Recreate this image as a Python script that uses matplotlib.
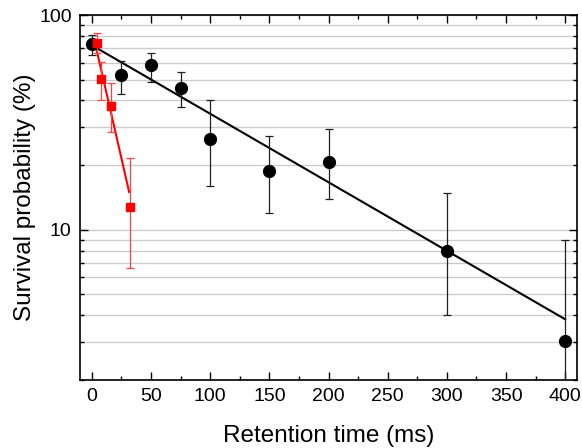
import matplotlib
matplotlib.use("Agg")
import matplotlib.pyplot as plt
import numpy as np
from matplotlib.ticker import LogLocator, MultipleLocator, NullFormatter, FixedFormatter, FixedLocator

plt.rcParams["font.family"] = ["Liberation Sans", "DejaVu Sans"]

# black series: long retention
t_black = [0, 25, 50, 75, 100, 150, 200, 300, 400]
p_black = [73.5, 52.4, 58.3, 45.8, 26.4, 18.7, 20.6, 7.96, 3.02]
p_black_hi = [80.8, 60.8, 66.9, 54.3, 40.0, 27.2, 29.4, 14.8, 8.93]
p_black_lo = [65.3, 43.0, 48.8, 37.1, 16.0, 12.0, 13.9, 4.0, 1.0]

# red series: short retention
t_red = [4, 8, 16, 32]
p_red = [74.0, 50.4, 37.8, 12.8]
p_red_hi = [82.2, 60.5, 48.0, 21.5]
p_red_lo = [66.6, 40.0, 28.5, 6.67]

# exponential fits (straight lines on log axis), endpoints
fit_black_t = [2.5, 400]
fit_black_p = [71.0, 3.83]
fit_red_t = [2, 31.5]
fit_red_p = [77.0, 15.0]

fig = plt.figure(figsize=(5.82, 4.48), dpi=100)
ax = fig.add_axes([0.1375, 0.152, 0.854, 0.8145])

ax.set_yscale("log")
ax.set_xlim(-10, 410)
ax.set_ylim(2, 100)

# grid at all y ticks
ax.yaxis.set_major_locator(FixedLocator([10, 100]))
ax.yaxis.set_minor_locator(LogLocator(base=10, subs=np.arange(2, 10)))
ax.yaxis.set_major_formatter(FixedFormatter(["10", "100"]))
ax.yaxis.set_minor_formatter(NullFormatter())
ax.grid(True, which="both", axis="y", color="#cccccc", linewidth=1.0)
ax.set_axisbelow(True)

ax.xaxis.set_major_locator(MultipleLocator(50))
ax.xaxis.set_minor_locator(MultipleLocator(25))

ax.plot(fit_black_t, fit_black_p, color="black", lw=1.5, zorder=3)
ax.plot(fit_red_t, fit_red_p, color="#ff0000", lw=1.5, zorder=3)

yerr_b = [np.array(p_black) - np.array(p_black_lo), np.array(p_black_hi) - np.array(p_black)]
ax.errorbar(t_black, p_black, yerr=yerr_b, fmt="o", color="black", ms=8.5,
            ecolor="#202020", elinewidth=0.9, capsize=3, capthick=0.9, zorder=4)
yerr_r = [np.array(p_red) - np.array(p_red_lo), np.array(p_red_hi) - np.array(p_red)]
ax.errorbar(t_red, p_red, yerr=yerr_r, fmt="s", color="#ff0000", ms=6,
            ecolor="#ff4040", elinewidth=0.9, capsize=3, capthick=0.9, zorder=5)

ax.tick_params(which="both", direction="in", top=True, right=True, labelsize=14, width=1, pad=6)
ax.tick_params(which="major", length=6)
ax.tick_params(which="minor", length=3)
for s in ax.spines.values():
    s.set_linewidth(1.2)

ax.set_xlabel("Retention time (ms)", fontsize=17.5, labelpad=14)
ax.set_ylabel("Survival probability (%)", fontsize=17.5, labelpad=2)

fig.savefig("out.png", dpi=100)
